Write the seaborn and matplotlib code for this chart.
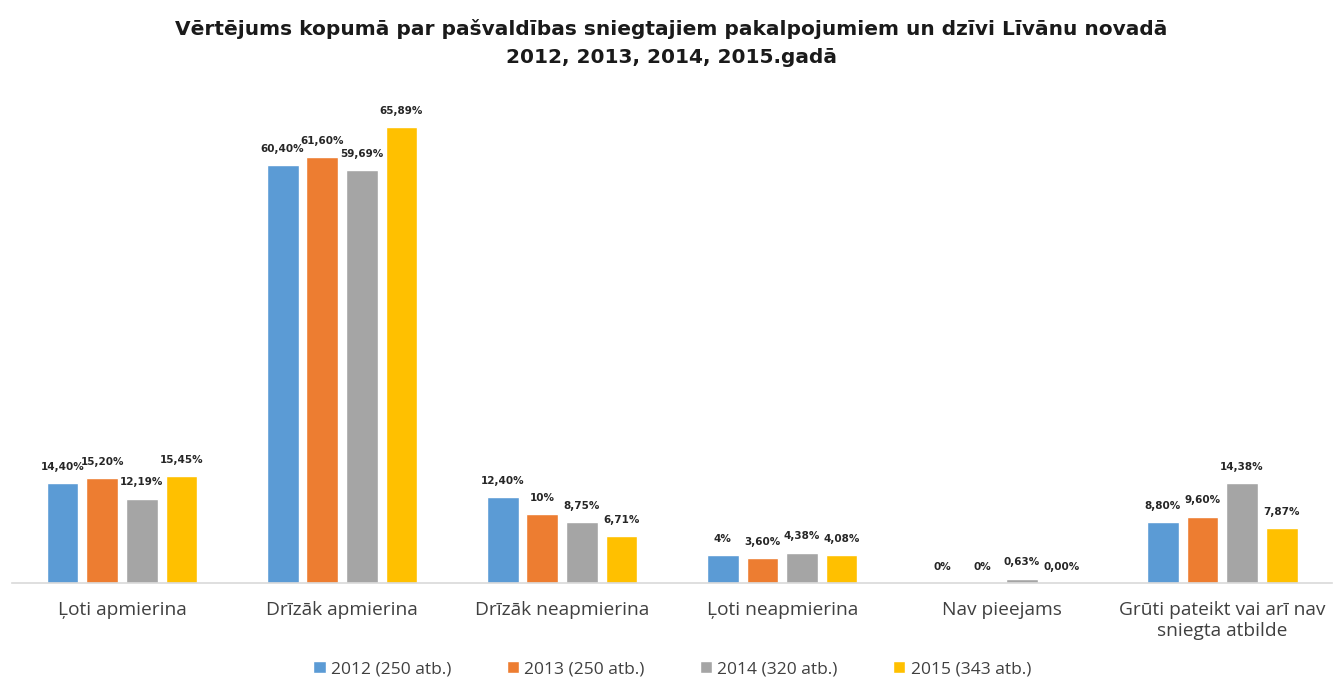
import pandas as pd
import matplotlib.pyplot as plt
import seaborn as sns

# Chart data
categories = ['Ļoti apmierina', 'Drīzāk apmierina', 'Drīzāk neapmierina',
              'Ļoti neapmierina', 'Nav pieejams',
              'Grūti pateikt vai arī nav\nsniegta atbilde']
years = ['2012 (250 atb.)', '2013 (250 atb.)', '2014 (320 atb.)', '2015 (343 atb.)']
v2012 = [14.40, 60.40, 12.40, 4.00, 0.00, 8.80]
v2013 = [15.20, 61.60, 10.00, 3.60, 0.00, 9.60]
v2014 = [12.19, 59.69, 8.75, 4.38, 0.63, 14.38]
v2015 = [15.45, 65.89, 6.71, 4.08, 0.00, 7.87]
lab2012 = ['14,40%', '60,40%', '12,40%', '4%', '0%', '8,80%']
lab2013 = ['15,20%', '61,60%', '10%', '3,60%', '0%', '9,60%']
lab2014 = ['12,19%', '59,69%', '8,75%', '4,38%', '0,63%', '14,38%']
lab2015 = ['15,45%', '65,89%', '6,71%', '4,08%', '0,00%', '7,87%']
colors = ['#5B9BD5', '#ED7D31', '#A5A5A5', '#FFC000']

rows = []
for year, vals in zip(years, [v2012, v2013, v2014, v2015]):
    for cat, v in zip(categories, vals):
        rows.append({'Kategorija': cat, 'Gads': year, 'Vērtība': v})
df = pd.DataFrame(rows)

sns.set_style('white')
plt.rcParams['font.family'] = ['Open Sans', 'DejaVu Sans']

fig = plt.figure(figsize=(13.35, 6.77), dpi=100)
ax = fig.add_axes([0.009, 0.139, 0.989, 0.715])

sns.barplot(data=df, x='Kategorija', y='Vērtība', hue='Gads',
            order=categories, hue_order=years, palette=colors,
            width=0.72, gap=0.2, ax=ax, errorbar=None, saturation=1)

for cont, labs in zip(ax.containers, [lab2012, lab2013, lab2014, lab2015]):
    ax.bar_label(cont, labels=labs, padding=8, fontsize=7.5, fontweight='bold',
                 color='#262626', family='DejaVu Sans')

ax.set_ylim(0, 70)
ax.set_xlim(-0.5, 5.5)
ax.set_yticks([])
ax.set_xlabel('')
ax.set_ylabel('')
for s in ['top', 'right', 'left']:
    ax.spines[s].set_visible(False)
ax.spines['bottom'].set_color('#D9D9D9')
ax.spines['bottom'].set_linewidth(1.2)
ax.tick_params(axis='x', length=0, labelsize=13.8, colors='#404040', pad=13)

handles, labels = ax.get_legend_handles_labels()
ax.legend(handles, labels, loc='center', bbox_to_anchor=(0.5, -0.178), ncol=4,
          frameon=False, fontsize=12.5, handlelength=0.7, handleheight=0.7,
          columnspacing=3.2, handletextpad=0.3, labelcolor='#404040')

fig.suptitle('Vērtējums kopumā par pašvaldības sniegtajiem pakalpojumiem un dzīvi Līvānu novadā\n2012, 2013, 2014, 2015.gadā',
             x=0.503, y=0.972, fontsize=14.5, fontweight='bold', color='#1a1a1a',
             linespacing=1.6, family='DejaVu Sans')

fig.savefig('out.png', dpi=100)
